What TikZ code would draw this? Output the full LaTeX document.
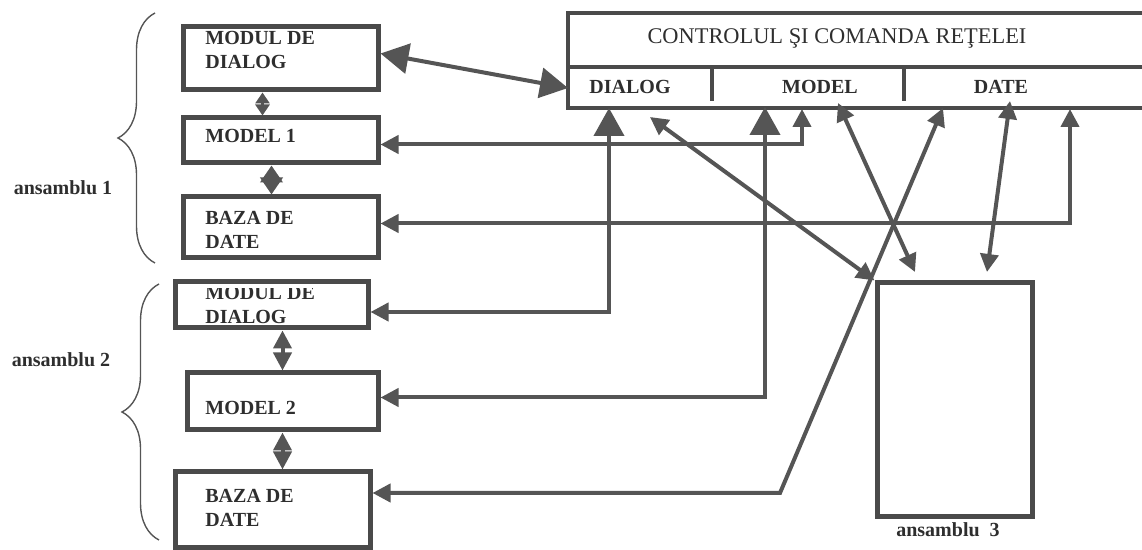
\documentclass[tikz,border=0pt]{standalone}
\usepackage{fontspec}
\setmainfont{Liberation Serif}
\usetikzlibrary{arrows.meta,fit,decorations.pathreplacing}
\definecolor{ink}{HTML}{555555}
\definecolor{frame}{HTML}{4A4A4A}
\definecolor{txt}{HTML}{2E2E2E}

\begin{document}
\begin{tikzpicture}[x=0.5pt,y=-0.5pt,
    box/.style={draw=frame,line width=2.5pt,inner sep=0pt,fit={#1}},
    lbl/.style={text=txt,font=\fontsize{10}{12}\selectfont\bfseries,align=left,anchor=west,inner sep=0pt},
    hdr/.style={text=txt,font=\fontsize{11.2}{13}\selectfont,inner sep=0pt},
    conn/.style={draw=ink,line width=2pt},
    brace/.style={draw=ink,line width=0.7pt,decorate,decoration={brace,amplitude=18.5pt}},
    Big/.tip={Triangle[length=14pt,width=15pt]},
    Mid/.tip={Triangle[length=9pt,width=9pt]},
    Sml/.tip={Triangle[length=5.5pt,width=7pt]},
    Dia/.tip={Triangle[length=8.5pt,width=11pt]}]
  \clip (0,0) rectangle (1142,550);

  % ansamblu 1
  \node[box={(183,27) (378,90)}] (d1) {};
  \node[lbl] (d1t) at (205,50) {MODUL DE\\DIALOG};
  \node[box={(183,118) (378,163)}] (m1) {};
  \node[lbl] (m1t) at (205,136) {MODEL 1};
  \node[box={(183,197) (378,258)}] (b1) {};
  \node[lbl] (b1t) at (205,230) {BAZA DE\\DATE};
  \draw[brace] (155,263) -- (155,13);
  \node[lbl,anchor=center] (lab1) at (63,188) {ansamblu 1};

  % ansamblu 2
  \node[box={(175,282) (368,328)}] (d2) {};
  \begin{scope}
    \clip (178,289) rectangle (365,326);
    \node[lbl] (d2t) at (205,305) {MODUL DE\\DIALOG};
  \end{scope}
  \node[box={(187,373) (378,430)}] (m2) {};
  \node[lbl] (m2t) at (205,408) {MODEL 2};
  \node[box={(175,472) (370,548)}] (b2) {};
  \node[lbl] (b2t) at (205,508) {BAZA DE\\DATE};
  \draw[brace] (159,540) -- (159,284);
  \node[lbl,anchor=center] (lab2) at (61,360) {ansamblu 2};

  % ansamblu 3
  \node[box={(877,283) (1032,517)}] (a3) {};
  \node[lbl,anchor=center] (a3t) at (948,530) {ansamblu~~3};

  % controlul retelei
  \node[box={(568,13) (1150,108)},line width=2pt] (ctl) {};
  \draw[draw=frame,line width=2pt] (568,67) -- (1150,67);
  \draw[draw=frame,line width=2pt] (712,67) -- (712,101);
  \draw[draw=frame,line width=2pt] (904,67) -- (904,101);
  \node[hdr] (ctlt) at (837,38) {CONTROLUL ŞI COMANDA REŢELEI};
  \node[lbl,anchor=center] (cdlg) at (630,87) {DIALOG};
  \node[lbl,anchor=center] (cmod) at (820,87) {MODEL};
  \node[lbl,anchor=center] (cdat) at (1001,87) {DATE};

  \coordinate (c-left) at (568,88);
  \coordinate (c-dlg) at (609,108);
  \coordinate (c-dlg2) at (650,117);
  \coordinate (c-mod) at (765,107);
  \coordinate (c-mod2) at (802,109);
  \coordinate (c-mod3) at (838,103);
  \coordinate (c-dat) at (943,108);
  \coordinate (c-dat2) at (1010,101);
  \coordinate (c-dat3) at (1070,109);
  \coordinate (a3-m) at (915,272);
  \coordinate (a3-d) at (987,272);
  \coordinate (bend) at (780,493);

  % inside the groups
  \draw[conn,line width=1.5pt,Sml-Sml] ([xshift=-9pt]d1.south) -- ([xshift=-9pt]m1.north);
  \draw[conn,Dia-Dia] ([xshift=-4.5pt]m1.south) -- ([xshift=-4.5pt]b1.north);
  \draw[conn,Mid-Mid] (d2.south -| m2.north) -- (m2.north);
  \draw[conn,Mid-Mid] (m2.south) -- (b2.north -| m2.south);

  % links to the control box
  \draw[conn,Big-Big] ([yshift=2.5pt]d1.east) -- (c-left);
  \draw[conn,Mid-Mid] ([yshift=-2pt]m1.east) -| (c-mod2);
  \draw[conn,Mid-Mid] ([yshift=2pt]b1.east) -| (c-dat3);
  \draw[conn,Mid-Big] ([yshift=-3.5pt]d2.east) -| (c-dlg);
  \draw[conn,Mid-Big] ([yshift=2pt]m2.east) -| (c-mod);
  \draw[conn,Mid-Mid] ([yshift=8.5pt]b2.east) -- (bend) -- (c-dat);

  % links to ansamblu 3
  \draw[conn,Mid-Mid] (c-dlg2) -- (a3.north west);
  \draw[conn,Mid-Mid] (c-mod3) -- (a3-m);
  \draw[conn,Mid-Mid] (c-dat2) -- (a3-d);
\end{tikzpicture}
\end{document}
